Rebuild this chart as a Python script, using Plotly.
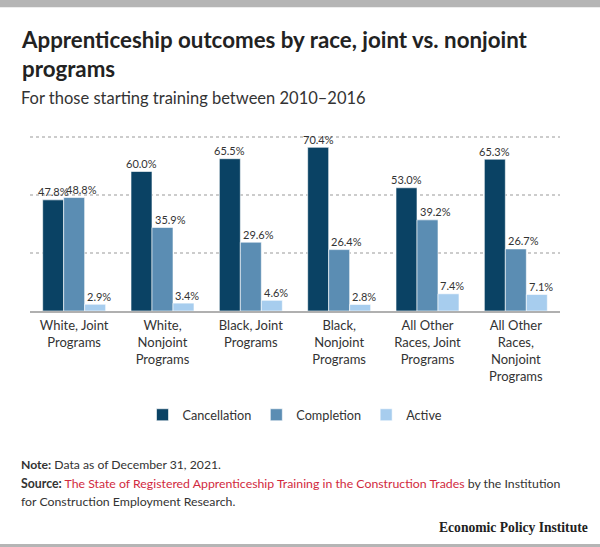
import plotly.graph_objects as go

categories = [
    "White, Joint<br>Programs",
    "White,<br>Nonjoint<br>Programs",
    "Black, Joint<br>Programs",
    "Black,<br>Nonjoint<br>Programs",
    "All Other<br>Races, Joint<br>Programs",
    "All Other<br>Races,<br>Nonjoint<br>Programs",
]
cancellation = [47.8, 60.0, 65.5, 70.4, 53.0, 65.3]
completion = [48.8, 35.9, 29.6, 26.4, 39.2, 26.7]
active = [2.9, 3.4, 4.6, 2.8, 7.4, 7.1]

series = [
    ("Cancellation", cancellation, "#0a4264"),
    ("Completion", completion, "#5b8db3"),
    ("Active", active, "#a7cdee"),
]

W, H = 600, 547
L, R, T, B = 30, 40, 125, 236
PH = H - T - B
PW = W - L - R

def py(ypx):
    return (H - B - ypx) / PH

def px(xpx):
    return (xpx - L) / PW

FONT = "Lato, 'Open Sans', sans-serif"
BARGAP = 0.287
GROUP_PX = PW / len(categories) * (1 - BARGAP)
BAR_PX = GROUP_PX / len(series)

fig = go.Figure()
for j, (name, vals, col) in enumerate(series):
    fig.add_trace(go.Bar(
        name=name, x=categories, y=vals,
        marker=dict(color=col, line=dict(color="white", width=0.6)),
        hoverinfo="skip",
    ))
    for cat, v in zip(categories, vals):
        if j == 0:
            anchor, shift = "center", (j - 1) * BAR_PX
        else:
            anchor, shift = "left", (j - 1.5) * BAR_PX + 2.5
        fig.add_annotation(
            x=cat, y=v, xref="x", yref="y", text=f"{v:.1f}%", showarrow=False,
            xshift=shift, yshift=8, yanchor="middle", xanchor=anchor,
            borderpad=0, borderwidth=0,
            font=dict(size=11, color="#333333", family=FONT),
        )

fig.update_layout(
    width=W, height=H,
    margin=dict(l=L, r=R, t=T, b=B, pad=0),
    plot_bgcolor="white", paper_bgcolor="white",
    barmode="group", bargap=BARGAP, bargroupgap=0,
    font=dict(family=FONT, color="#333333"),
    showlegend=True,
    legend=dict(orientation="h", x=px(295), xanchor="center", y=py(415), yanchor="middle",
                font=dict(size=12.7, color="#333333", family=FONT), traceorder="normal",
                itemwidth=30),
    xaxis=dict(showgrid=False, showline=True, linecolor="#b0b0b0", linewidth=1.5,
               tickfont=dict(size=13, color="#333333", family=FONT), ticks="",
               ticklabelstandoff=2, automargin=False),
    yaxis=dict(range=[0, 80], tickvals=[25, 50, 75], showticklabels=False,
               showgrid=True, gridcolor="#cccccc", griddash="dot", gridwidth=1.5,
               zeroline=False, showline=False, automargin=False),
)

annotations = [
    dict(text="<b>Apprenticeship outcomes by race, joint vs. nonjoint<br>programs</b>",
         x=px(20.5), y=py(54.5), font=dict(size=22.3, color="#222222", family=FONT)),
    dict(text="For those starting training between 2010\u20132016", x=px(20.5), y=py(98),
         font=dict(size=16.5, color="#333333", family=FONT)),
    dict(text="<b>Note:</b> Data as of December 31, 2021.", x=px(20.5), y=py(464),
         font=dict(size=12.2, color="#333333", family=FONT)),
    dict(text="<b>Source:</b> <span style='color:#d12a3e'>The State of Registered Apprenticeship Training in the Construction Trades</span> by the Institution",
         x=px(20.5), y=py(483.5), font=dict(size=12.3, color="#333333", family=FONT)),
    dict(text="for Construction Employment Research.", x=px(20.5), y=py(501),
         font=dict(size=12.3, color="#333333", family=FONT)),
]
for a in annotations:
    a.update(xref="paper", yref="paper", xanchor="left", yanchor="middle", align="left",
             showarrow=False, borderpad=0, borderwidth=0)
    fig.add_annotation(**a)

fig.add_annotation(text="<b>Economic Policy Institute</b>", xref="paper", yref="paper",
                   x=px(588), y=py(527), xanchor="right", yanchor="middle", showarrow=False,
                   borderpad=0, borderwidth=0,
                   font=dict(size=13.6, color="#222222", family="'Liberation Serif', serif"))

fig.add_shape(type="rect", xref="paper", yref="paper", x0=px(0), x1=px(600), y0=py(0), y1=py(7.3),
              fillcolor="#b5b5b5", line=dict(width=0), layer="above")
fig.add_shape(type="rect", xref="paper", yref="paper", x0=px(0), x1=px(600), y0=py(544), y1=py(547),
              fillcolor="#b5b5b5", line=dict(width=0), layer="above")

fig.write_html("out.html", config={"displayModeBar": False},
               post_script="document.body.style.margin='0';document.body.style.padding='0';")
